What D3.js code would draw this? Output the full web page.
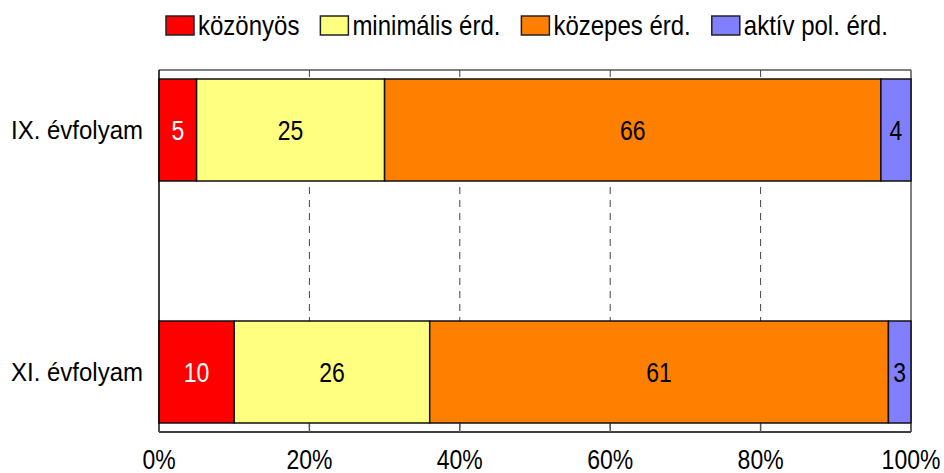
<!DOCTYPE html>
<html>
<head>
<meta charset="utf-8">
<script src="https://cdn.jsdelivr.net/npm/d3@7"></script>
<style>
  body { margin: 0; background: #fff; }
  text { font-family: "Liberation Sans", Arial, sans-serif; }
</style>
</head>
<body>
<div id="chart"></div>
<script>
// categories and series (percent)
var categories = ['IX. évfolyam', 'XI. évfolyam'];
var seriesNames = ['közönyös', 'minimális érd.', 'közepes érd.', 'aktív pol. érd.'];
var seriesColors = ['#ff0000', '#ffff80', '#ff8000', '#8080ff'];
var labelColors = ['#ffffff', '#000000', '#000000', '#000000'];
var kozonyos = [5, 10];
var minimalis = [25, 26];
var kozepes = [66, 61];
var aktiv = [4, 3];
var xTicks = [0, 20, 40, 60, 80, 100];

var width = 944, height = 473;
var margin = {top: 70, right: 33, bottom: 41, left: 159};
var iw = width - margin.left - margin.right,
    ih = height - margin.top - margin.bottom;

var svg = d3.select('#chart')
  .append('svg')
    .attr('width', width)
    .attr('height', height);

var g = svg.append('g')
    .attr('transform', 'translate(' + margin.left + ',' + margin.top + ')');

var x = d3.scaleLinear().domain([0, 100]).range([0, iw]);
var y = d3.scaleBand().domain(categories).range([0, ih])
    .paddingInner(0.5785).paddingOuter(0.0372);

// build stacked rows
var rows = categories.map(function(c, i) {
    return {cat: c, vals: [kozonyos[i], minimalis[i], kozepes[i], aktiv[i]]};
});
var stacked = d3.stack().keys([0, 1, 2, 3]).value(function(d, k) { return d.vals[k]; })(rows);

// frame
g.append('line').attr('x1', 0).attr('x2', iw).attr('y1', 0).attr('y2', 0)
    .attr('stroke', '#555').attr('stroke-width', 1.5);
g.append('line').attr('x1', iw).attr('x2', iw).attr('y1', 0).attr('y2', ih)
    .attr('stroke', '#555').attr('stroke-width', 1.5);

// dashed gridlines
g.selectAll('.grid').data(xTicks.filter(function(t) { return t > 0 && t < 100; }))
  .enter().append('line')
    .attr('x1', function(d) { return x(d); })
    .attr('x2', function(d) { return x(d); })
    .attr('y1', 0).attr('y2', ih)
    .attr('stroke', '#444')
    .attr('stroke-width', 1)
    .attr('stroke-dasharray', '7,6');

// bars
stacked.forEach(function(layer, k) {
    g.selectAll('.bar' + k).data(layer).enter().append('rect')
        .attr('x', function(d) { return x(d[0]); })
        .attr('y', function(d) { return y(d.data.cat); })
        .attr('width', function(d) { return x(d[1]) - x(d[0]); })
        .attr('height', y.bandwidth())
        .attr('fill', seriesColors[k])
        .attr('stroke', '#111')
        .attr('stroke-width', 1.5);

    g.selectAll('.lab' + k).data(layer).enter().append('text')
        .attr('transform', function(d) {
            return 'translate(' + x((d[0] + d[1]) / 2) + ',' + (y(d.data.cat) + y.bandwidth() / 2) + ') scale(1,1.22)';
        })
        .attr('text-anchor', 'middle')
        .attr('dy', '0.36em')
        .attr('font-size', 23)
        .attr('fill', labelColors[k])
        .text(function(d) { return d.data.vals[k]; });
});

// axes
g.append('line').attr('x1', 0).attr('x2', 0).attr('y1', 0).attr('y2', ih)
    .attr('stroke', '#000').attr('stroke-width', 1.5);
g.append('line').attr('x1', 0).attr('x2', iw).attr('y1', ih).attr('y2', ih)
    .attr('stroke', '#000').attr('stroke-width', 1.5);

g.selectAll('.xtick').data(xTicks).enter().append('line')
    .attr('x1', function(d) { return x(d); })
    .attr('x2', function(d) { return x(d); })
    .attr('y1', ih).attr('y2', ih - 8)
    .attr('stroke', '#555').attr('stroke-width', 1.5);

g.selectAll('.xlab').data(xTicks).enter().append('text')
    .attr('transform', function(d) { return 'translate(' + x(d) + ',' + (ih + 37) + ') scale(1,1.2)'; })
    .attr('text-anchor', 'middle')
    .attr('font-size', 23)
    .attr('fill', '#000')
    .text(function(d) { return d + '%'; });

g.selectAll('.ylab').data(categories).enter().append('text')
    .attr('transform', function(d) { return 'translate(-16,' + (y(d) + y.bandwidth() / 2) + ') scale(1,1.08)'; })
    .attr('text-anchor', 'end')
    .attr('dy', '0.36em')
    .attr('font-size', 24)
    .attr('fill', '#000')
    .text(function(d) { return d; });

// legend
var legend = svg.append('g');
var lx = 166;
seriesNames.forEach(function(name, k) {
    legend.append('rect')
        .attr('x', lx).attr('y', 16)
        .attr('width', 28).attr('height', 19)
        .attr('fill', seriesColors[k])
        .attr('stroke', '#222').attr('stroke-width', 1.5);
    var t = legend.append('text')
        .attr('transform', 'translate(' + (lx + 32) + ',35) scale(1,1.15)')
        .attr('font-size', 24)
        .attr('fill', '#000')
        .text(name);
    lx += 32 + t.node().getComputedTextLength() + 21;
});
</script>
</body>
</html>
